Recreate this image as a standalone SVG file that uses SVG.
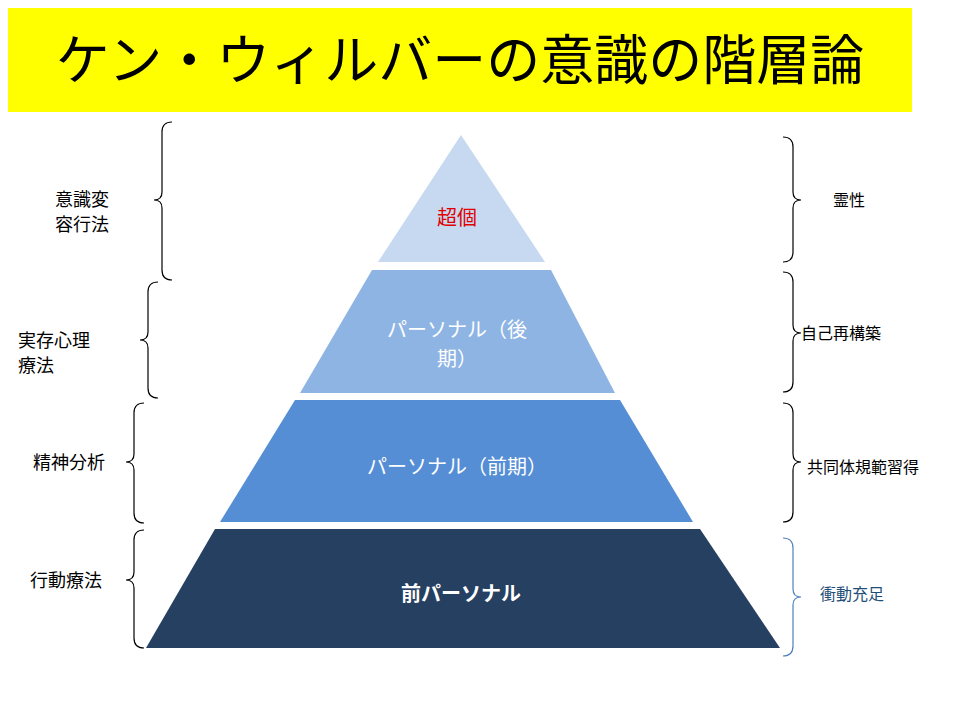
<svg xmlns="http://www.w3.org/2000/svg" width="960" height="720" viewBox="0 0 960 720">
<style>
text{font-family:"Noto Sans CJK JP","Noto Sans",sans-serif}
.lbl{font-size:18px;fill:#000}
.pt{font-size:20px;fill:#fff;text-anchor:middle}
.br{fill:none;stroke:#000;stroke-width:1.2}
</style>
<rect width="960" height="720" fill="#fff"/>
<g id="title">
<rect x="8" y="8" width="904" height="104" fill="#ffff00"/>
<text x="460" y="80" font-size="54" text-anchor="middle" fill="#000">ケン・ウィルバーの意識の階層論</text>
</g>
<g id="tier1"><polygon points="461,135 545,262 378,262" fill="#c6d9f1"/><text x="457" y="225" class="pt" fill="#e00000" style="fill:#e00000">超個</text></g>
<g id="tier2"><polygon points="372,270 551,270 615,393 300,393" fill="#8eb4e3"/><text x="457" y="337" class="pt">パーソナル（後</text><text x="457" y="366" class="pt">期）</text></g>
<g id="tier3"><polygon points="295,400 620,400 693,522 220,522" fill="#558ed5"/><text x="457" y="474" class="pt">パーソナル（前期）</text></g>
<g id="tier4"><polygon points="215,529 700,529 780,648 146,648" fill="#254061"/><text x="461" y="601" class="pt" font-weight="bold">前パーソナル</text></g>
<g id="connectors">
<path class="br" d="M172,122 Q162,122 162,132 L162,192 Q162,200 154,200 Q162,200 162,208 L162,270 Q162,280 172,280"/>
<path class="br" d="M158,282 Q148,282 148,292 L148,332 Q148,340 140,340 Q148,340 148,348 L148,388 Q148,398 158,398"/>
<path class="br" d="M144,403 Q134,403 134,413 L134,454 Q134,462 126,462 Q134,462 134,470 L134,513 Q134,523 144,523"/>
<path class="br" d="M144,530 Q134,530 134,540 L134,572 Q134,580 126,580 Q134,580 134,588 L134,638 Q134,648 144,648"/>
<path class="br" d="M783,137 Q793,137 793,147 L793,192 Q793,200 801,200 Q793,200 793,208 L793,252 Q793,262 783,262"/>
<path class="br" d="M783,272 Q793,272 793,282 L793,325 Q793,333 801,333 Q793,333 793,341 L793,382 Q793,392 783,392"/>
<path class="br" d="M783,403 Q793,403 793,413 L793,454 Q793,462 801,462 Q793,462 793,470 L793,512 Q793,522 783,522"/>
<path class="br" style="stroke:#4f81bd" d="M783,538 Q793,538 793,548 L793,589 Q793,597 801,597 Q793,597 793,605 L793,646 Q793,656 783,656"/>
</g>
<g id="left-labels">
<text class="lbl" x="55" y="206">意識変</text><text class="lbl" x="55" y="231">容行法</text>
<text class="lbl" x="18" y="347">実存心理</text><text class="lbl" x="18" y="372">療法</text>
<text class="lbl" x="33" y="469">精神分析</text>
<text class="lbl" x="30" y="587">行動療法</text>
</g>
<g id="right-labels">
<text x="833" y="206" font-size="16">霊性</text>
<text x="801" y="339" font-size="16">自己再構築</text>
<text x="807" y="473" font-size="16">共同体規範習得</text>
<text x="820" y="600" font-size="16" fill="#1f4e79">衝動充足</text>
</g>
</svg>
